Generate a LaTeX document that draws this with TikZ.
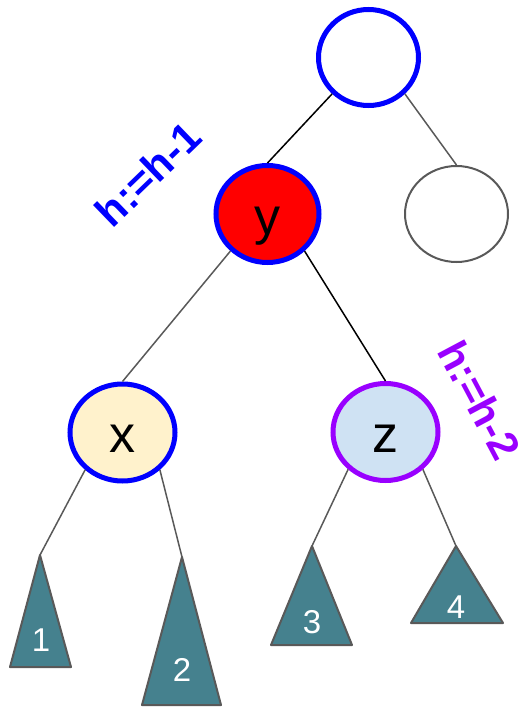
\documentclass[tikz,border=0pt]{standalone}
\usepackage{fontspec}
\setmainfont{Liberation Sans}
\usetikzlibrary{shapes.geometric}

\definecolor{hblue}{HTML}{0000FF}
\definecolor{hpurple}{HTML}{9900FF}
\definecolor{cream}{HTML}{FFF2CC}
\definecolor{paleblue}{HTML}{CFE2F3}
\definecolor{subteal}{HTML}{45818E}
\definecolor{edgegray}{HTML}{595959}

\tikzset{
  knot/.style={ellipse, draw, line width=5pt, inner sep=0pt,
    minimum width=105pt, minimum height=97pt,
    text height=40pt, text depth=0pt,
    font=\fontsize{52}{52}\selectfont},
  edge/.style={line width=1.5pt, edgegray},
  subtree/.style={fill=subteal, draw=edgegray, line width=2pt, line join=round},
  subnum/.style={text=white, font=\fontsize{33}{33}\selectfont},
  hlabel/.style={font=\fontsize{42}{42}\selectfont\bfseries, inner sep=0pt}
}

\begin{document}
\begin{tikzpicture}[x=1pt, y=-1pt]

  \useasboundingbox (0,0) rectangle (525,707);

  % upper part of the tree
  \node[knot, draw=hblue, minimum width=100pt, minimum height=96pt] (root) at (368.5,57.5) {};
  \node[knot, draw=hblue, fill=red, minimum width=103pt, minimum height=97pt] (y) at (267.5,214) {y};
  \node[knot, draw=edgegray, line width=2pt, minimum width=103pt, minimum height=96pt] (right) at (456.5,214) {};

  % the two children of y
  \node[knot, draw=hblue, fill=cream] (x) at (122.5,432.5) {x};
  \node[knot, draw=hpurple, fill=paleblue] (z) at (385.5,432) {z};

  % subtrees
  \coordinate (t1) at (40,555);
  \coordinate (t2) at (182,557);
  \coordinate (t3) at (312,546);
  \coordinate (t4) at (456,546);
  \draw[subtree] (t1) -- (71,667) -- (10,667) -- cycle;
  \draw[subtree] (t2) -- (221,705) -- (142,705) -- cycle;
  \draw[subtree] (t3) -- (352,645) -- (271,645) -- cycle;
  \draw[subtree] (t4) -- (503,623) -- (411,623) -- cycle;
  \node[subnum] (n1) at (41,640) {1};
  \node[subnum] (n2) at (182,670) {2};
  \node[subnum] (n3) at (312,622) {3};
  \node[subnum] (n4) at (456,607) {4};

  % edges
  \draw[edge, black] (root.225) -- (y.north);
  \draw[edge] (root.-45) -- (right.north);
  \draw[edge] (y.225) -- (x.north);
  \draw[edge, black] (y.-45) -- (z.north);
  \draw[edge] (x.225) -- (t1);
  \draw[edge] (x.-45) -- (t2);
  \draw[edge] (z.225) -- (t3);
  \draw[edge] (z.-45) -- (t4);

  % height updates
  \node[hlabel, hblue, rotate=44] (h1) at (148,174) {h:=h-1};
  \node[hlabel, hpurple, rotate=-62] (h2) at (480,400) {h:=h-2};

\end{tikzpicture}
\end{document}
